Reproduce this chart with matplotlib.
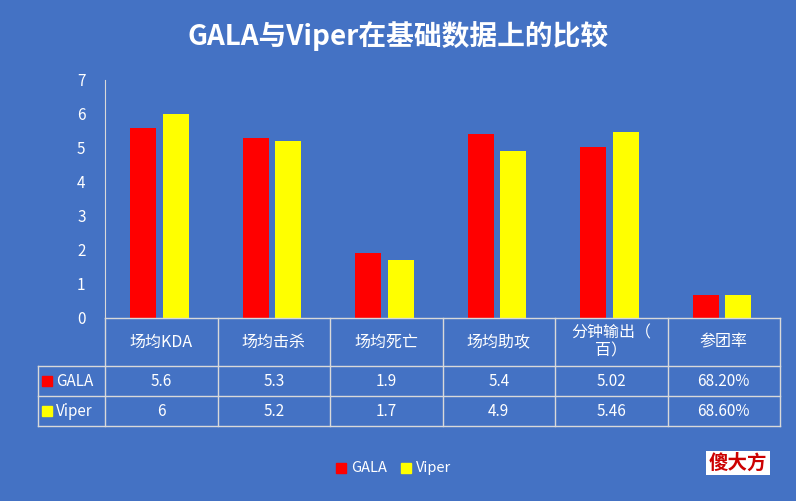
import numpy as np
import matplotlib.pyplot as plt

plt.rcParams['font.family'] = ['Noto Sans CJK SC', 'DejaVu Sans']

categories = ['场均KDA', '场均击杀', '场均死亡', '场均助攻', '分钟输出（\n百）', '参团率']
gala = [5.6, 5.3, 1.9, 5.4, 5.02, 0.682]
viper = [6, 5.2, 1.7, 4.9, 5.46, 0.686]
gala_labels = ['5.6', '5.3', '1.9', '5.4', '5.02', '68.20%']
viper_labels = ['6', '5.2', '1.7', '4.9', '5.46', '68.60%']
series = [('GALA', gala_labels, '#FF0000'), ('Viper', viper_labels, '#FFFF00')]

bg = '#4472C4'
W, H = 796, 501
fig = plt.figure(figsize=(W / 100, H / 100), dpi=100, facecolor=bg)

def fx(px):
    return px / W

def fy(py):
    return 1 - py / H

x0, x1, ytop, ybot = 105, 780, 80, 318
ax = fig.add_axes([fx(x0), fy(ybot), fx(x1 - x0), fy(ytop) - fy(ybot)])
ax.set_facecolor(bg)
x = np.arange(len(categories))
ax.bar(x - 0.16, gala, width=0.23, color='#FF0000')
ax.bar(x + 0.13, viper, width=0.23, color='#FFFF00')
ax.set_xlim(-0.5, len(categories) - 0.5)
ax.set_ylim(0, 7)
ax.set_yticks(range(8))
ax.tick_params(axis='y', colors='white', labelsize=11, length=0, pad=14)
ax.set_xticks([])
for s in ['top', 'right', 'bottom']:
    ax.spines[s].set_visible(False)
ax.spines['left'].set_color('#D9D9D9')

# data table
tab = fig.add_axes([0, 0, 1, 1], facecolor='none')
tab.set_xlim(0, W)
tab.set_ylim(H, 0)
tab.axis('off')
lc = '#D9D9D9'
rows = [318, 366, 396, 426]
colw = (x1 - x0) / len(categories)
tab.plot([x0, x1], [rows[0], rows[0]], color=lc, lw=1)
for r in rows[1:]:
    tab.plot([38, x1], [r, r], color=lc, lw=1)
tab.plot([38, 38], [rows[1], rows[3]], color=lc, lw=1)
for i in range(len(categories) + 1):
    xx = x0 + i * colw
    tab.plot([xx, xx], [rows[0], rows[3]], color=lc, lw=1)
for i, c in enumerate(categories):
    tab.text(x0 + (i + 0.5) * colw, (rows[0] + rows[1]) / 2, c, color='white',
             ha='center', va='center', fontsize=11.5, linespacing=1.1)
for j, (name, labels, col) in enumerate(series):
    yc = (rows[j + 1] + rows[j + 2]) / 2
    tab.add_patch(plt.Rectangle((42, yc - 5), 10, 10, color=col))
    tab.text(56, yc, name, color='white', ha='left', va='center', fontsize=11)
    for i, v in enumerate(labels):
        tab.text(x0 + (i + 0.5) * colw, yc, v, color='white', ha='center',
                 va='center', fontsize=11)

# legend
for px, name, col in [(336, 'GALA', '#FF0000'), (401, 'Viper', '#FFFF00')]:
    tab.add_patch(plt.Rectangle((px, 463), 10, 10, color=col))
    tab.text(px + 15, 468, name, color='white', ha='left', va='center', fontsize=10.5)

fig.text(0.5, fy(36), 'GALA与Viper在基础数据上的比较', color='white', ha='center',
         va='center', fontsize=20, fontweight='bold')
fig.text(fx(738), fy(463), '傻大方', color='#CC0000', ha='center', va='center',
         fontsize=14, fontweight='bold',
         bbox=dict(facecolor='white', edgecolor='none', pad=2))

fig.savefig('out.png', dpi=100, facecolor=bg)
